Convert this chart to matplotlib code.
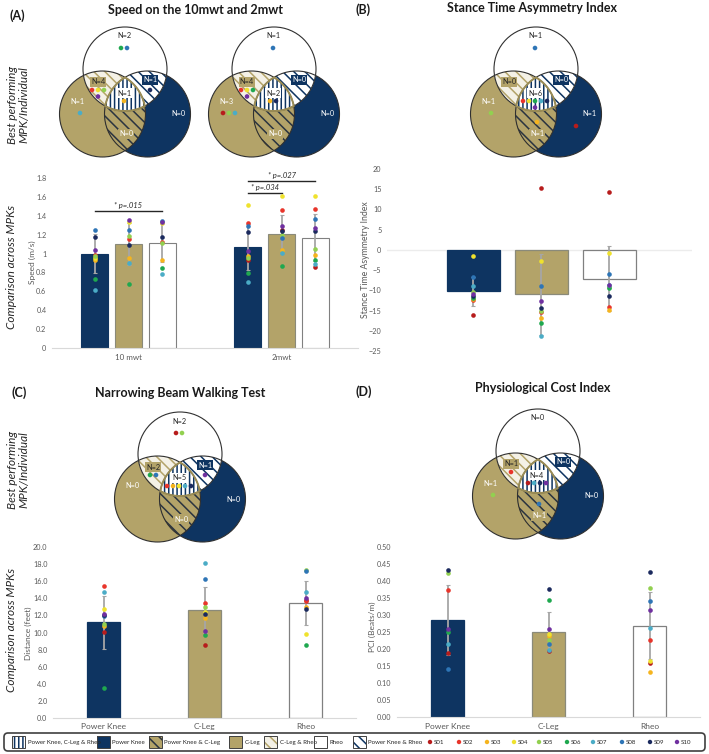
import numpy as np
import matplotlib
matplotlib.use('Agg')
import matplotlib.pyplot as plt
from matplotlib.patches import Circle, Polygon, FancyBboxPatch, Rectangle

plt.rcParams['font.family'] = ['Lato', 'DejaVu Sans']
plt.rcParams['hatch.linewidth'] = 1.1

# ---------------- data ----------------
SUBJECTS = ['S01', 'S02', 'S03', 'S04', 'S05', 'S06', 'S07', 'S08', 'S09', 'S10']
SUBJ_COLORS = ['#b71c1c', '#e8352b', '#f5b41e', '#efe22d', '#92d050',
               '#1fa84f', '#4bacc6', '#2e75b6', '#1b2a5e', '#7030a0']
MPKS = ['Power Knee', 'C-Leg', 'Rheo']
nan = np.nan

# (A) speed
A_TESTS = ['10 mwt', '2mwt']
A_MEAN = [[1.00, 1.10, 1.11], [1.07, 1.21, 1.17]]
A_SD = [[0.21, 0.22, 0.20], [0.24, 0.20, 0.25]]
A_10_PK = [nan, 0.98, 0.93, 0.95, 0.97, 0.73, 0.61, 1.25, 1.18, 1.04]
A_10_CL = [nan, 1.15, 0.95, 1.33, 1.19, 0.68, 0.90, 1.25, 1.09, 1.36]
A_10_RH = [nan, 1.12, 0.93, 1.32, 1.11, 0.85, 0.78, 1.35, 1.18, 1.33]
A_2_PK = [0.93, 1.32, 0.97, 1.51, 0.95, 0.79, 0.70, 1.29, 1.23, 1.03]
A_2_CL = [1.25, 1.46, 1.04, 1.61, 1.20, 0.87, 1.01, 1.16, 1.24, 1.29]
A_2_RH = [0.86, 1.47, 0.99, 1.61, 1.05, 0.93, 0.89, 1.37, 1.24, 1.27]
A_SIG = [('10 mwt', 0, 2, 1.45, '* p=.015'),
         ('2mwt', 0, 1, 1.64, '* p=.034'),
         ('2mwt', 0, 2, 1.77, '* p=.027')]

# (B) stance time asymmetry index
B_MEAN = [-10.2, -11.0, -7.1]
B_SD = [3.6, 10.0, 8.1]
B_PK = [-16.0, -12.3, -12.1, -1.6, -10.3, -11.9, -9.0, -6.6, -11.5, -10.8]
B_CL = [15.2, -15.3, -16.8, -2.8, -15.0, -18.2, -21.2, -9.0, -14.3, -12.7]
B_RH = [14.3, -14.2, -14.9, -0.7, -9.2, -9.3, -8.6, -5.9, -11.5, -8.8]

# (C) narrowing beam walking test
C_MEAN = [11.2, 12.6, 13.5]
C_SD = [3.1, 2.7, 2.6]
C_PK = [10.1, 15.5, 10.8, 12.8, 11.0, 3.5, 14.8, 11.9, 12.0, 12.2]
C_CL = [8.5, 13.5, 11.7, 12.4, 13.0, 9.7, 18.2, 16.3, 12.2, 10.2]
C_RH = [13.8, 13.7, 13.0, 9.8, 17.3, 8.5, 14.8, 17.2, 12.7, 14.0]

# (D) physiological cost index
D_MEAN = [0.285, 0.250, 0.268]
D_SD = [0.103, 0.058, 0.098]
D_PK = [0.188, 0.374, nan, nan, 0.423, 0.250, 0.213, 0.141, 0.432, 0.258]
D_CL = [0.193, nan, 0.238, 0.245, 0.226, 0.343, 0.197, 0.215, 0.376, 0.259]
D_RH = [0.160, 0.226, 0.133, 0.165, 0.380, nan, 0.261, 0.341, 0.427, 0.313]

# Venn diagrams: best performing MPK per individual
REGIONS = ['Rheo', 'C-Leg & Rheo', 'Power Knee & Rheo', 'Power Knee, C-Leg & Rheo',
           'C-Leg', 'Power Knee', 'Power Knee & C-Leg']
VENN_A1_N = [2, 4, 1, 1, 1, 0, 0]
VENN_A1_DOTS = [['S06', 'S08'], ['S02', 'S04', 'S05', 'S10'], ['S09'], ['S03'], ['S07'], [], []]
VENN_A2_N = [1, 4, 0, 2, 3, 0, 0]
VENN_A2_DOTS = [['S08'], ['S02', 'S04', 'S06', 'S10'], [], ['S03', 'S09'], ['S01', 'S05', 'S07'], [], []]
VENN_B_N = [1, 0, 0, 6, 1, 1, 1]
VENN_B_DOTS = [['S08'], [], [], ['S02', 'S04', 'S06', 'S07', 'S09', 'S10'], ['S05'], ['S01'], ['S03']]
VENN_C_N = [2, 2, 1, 5, 0, 0, 0]
VENN_C_DOTS = [['S01', 'S05'], ['S06', 'S08'], ['S10'], ['S02', 'S03', 'S04', 'S07', 'S09'], [], [], []]
VENN_D_N = [0, 1, 0, 4, 1, 0, 1]
VENN_D_DOTS = [[], ['S02'], [], ['S01', 'S07', 'S09', 'S10'], ['S05'], [], ['S08']]

# ---------------- style ----------------
NAVY = '#0e3461'
TAN = '#b3a369'
CREAM = '#f4f1e6'
GRID = '#d9d9d9'
TXT = '#595959'
DARK = '#262626'
BAR_FC = [NAVY, TAN, 'white']
BAR_EC = [NAVY, '#8a8a7a', '#808080']
COLOR_OF = dict(zip(SUBJECTS, SUBJ_COLORS))

W, H = 709, 754
fig = plt.figure(figsize=(W / 100, H / 100), dpi=100)
ov = fig.add_axes([0, 0, 1, 1])
ov.set_xlim(0, W)
ov.set_ylim(H, 0)
ov.axis('off')
ov.patch.set_visible(False)


def px_axes(x0, x1, ytop, ybot):
    ax = fig.add_axes([x0 / W, 1 - ybot / H, (x1 - x0) / W, (ybot - ytop) / H])
    ax.patch.set_visible(False)
    for s in ['top', 'right', 'left', 'bottom']:
        ax.spines[s].set_visible(False)
    ax.tick_params(axis='both', length=0, labelsize=5.2, labelcolor=TXT, pad=4)
    return ax


def inter_poly(circs, n=900):
    pts = []
    for i, (c, r) in enumerate(circs):
        t = np.linspace(0, 2 * np.pi, n, endpoint=False)
        p = np.c_[c[0] + r * np.cos(t), c[1] + r * np.sin(t)]
        ok = np.ones(n, bool)
        for j, (c2, r2) in enumerate(circs):
            if j == i:
                continue
            ok &= np.hypot(p[:, 0] - c2[0], p[:, 1] - c2[1]) <= r2
        pts.append(p[ok])
    pts = np.vstack(pts)
    m = pts.mean(0)
    ang = np.arctan2(pts[:, 1] - m[1], pts[:, 0] - m[0])
    return pts[np.argsort(ang)]


LBL_OFF = [(-1, -33), (-27, 13), (25, 11), (-1, 24), (-48, 32), (53, 45), (1, 65)]
DOT_OFF = [(-1, -21), (-27, 21), (25, 21), (-1, 32), (-45, 44), (40, 57), (1, 53)]
DOT_ROW = [3, 3, 3, 5, 3, 3, 3]
LBL_STYLE = [(DARK, None), (DARK, TAN), ('white', NAVY), (DARK, 'white'),
             ('white', None), ('white', None), ('white', TAN)]


def venn(cx, cy, counts, dots):
    top = ((cx, cy), 42)
    tan = ((cx - 22.5, cy + 45), 43)
    nav = ((cx + 22.5, cy + 45), 43)
    ov.add_patch(Circle(*tan, fc=TAN, ec='none', zorder=1))
    ov.add_patch(Circle(*nav, fc=NAVY, ec='none', zorder=1))
    ov.add_patch(Polygon(inter_poly([tan, nav]), closed=True, fc=TAN, ec='#2a3440',
                         hatch='\\\\\\', lw=0, zorder=2))
    ov.add_patch(Circle(*top, fc='white', ec='none', zorder=3))
    ov.add_patch(Polygon(inter_poly([top, tan]), closed=True, fc=CREAM, ec=TAN,
                         hatch='\\\\\\', lw=0, zorder=4))
    ov.add_patch(Polygon(inter_poly([top, nav]), closed=True, fc='white', ec=NAVY,
                         hatch='\\\\\\', lw=0, zorder=4))
    tri = inter_poly([top, tan, nav])
    ov.add_patch(Polygon(tri, closed=True, fc='white', ec=NAVY, hatch='||||', lw=0, zorder=5))
    for c in (top, tan, nav):
        ov.add_patch(Circle(*c, fill=False, ec='#303030', lw=0.8, zorder=6))
    ov.add_patch(Polygon(tri, closed=True, fill=False, ec='#9a8c55', lw=1.4, zorder=6.5))
    for k in range(len(REGIONS)):
        tc, bc = LBL_STYLE[k]
        lx, ly = cx + LBL_OFF[k][0], cy + LBL_OFF[k][1]
        bbox = None if bc is None else dict(boxstyle='square,pad=0.18', fc=bc, ec='none')
        ov.text(lx, ly, 'N=%d' % counts[k], ha='center', va='center', fontsize=5.3,
                color=tc, bbox=bbox, zorder=7)
        subs = dots[k]
        nrow = DOT_ROW[k]
        for i, s in enumerate(subs):
            row, col = divmod(i, nrow)
            nin = min(nrow, len(subs) - row * nrow)
            dx = (col - (nin - 1) / 2) * 6.0
            ov.add_patch(Circle((cx + DOT_OFF[k][0] + dx, cy + DOT_OFF[k][1] + row * 6.5), 2.3,
                                fc=COLOR_OF[s], ec='none', zorder=8))


def scatter_pts(ax, x, vals):
    for s, v in zip(SUBJECTS, vals):
        if not np.isnan(v):
            ax.scatter([x], [v], s=11, color=COLOR_OF[s], zorder=5, linewidths=0, clip_on=False)


# ---------------- panel titles & row labels ----------------
ov.text(10, 16, '(A)', fontsize=9, fontweight='bold', ha='left', va='center', color='#1a1a1a')
ov.text(195, 10, 'Speed on the 10mwt and 2mwt', fontsize=9, fontweight='bold', ha='center', va='center', color='#1a1a1a')
ov.text(356, 10, '(B)', fontsize=9, fontweight='bold', ha='left', va='center', color='#1a1a1a')
ov.text(532, 8, 'Stance Time Asymmetry Index', fontsize=9, fontweight='bold', ha='center', va='center', color='#1a1a1a')
ov.text(12, 393, '(C)', fontsize=9, fontweight='bold', ha='left', va='center', color='#1a1a1a')
ov.text(180, 393, 'Narrowing Beam Walking Test', fontsize=9, fontweight='bold', ha='center', va='center', color='#1a1a1a')
ov.text(356, 392, '(D)', fontsize=9, fontweight='bold', ha='left', va='center', color='#1a1a1a')
ov.text(543, 388, 'Physiological Cost Index', fontsize=9, fontweight='bold', ha='center', va='center', color='#1a1a1a')

for yc in (105, 470):
    ov.text(18, yc, 'Best performing\nMPK/Individual', rotation=90, style='italic', fontsize=8.5,
            ha='center', va='center', color=DARK, linespacing=1.1)
for yc in (267, 630):
    ov.text(12, yc, 'Comparison across MPKs', rotation=90, style='italic', fontsize=8.5,
            ha='center', va='center', color=DARK)

# ---------------- Venns ----------------
venn(125, 69, VENN_A1_N, VENN_A1_DOTS)
venn(274, 69, VENN_A2_N, VENN_A2_DOTS)
venn(536, 69, VENN_B_N, VENN_B_DOTS)
venn(180, 454, VENN_C_N, VENN_C_DOTS)
venn(538, 451, VENN_D_N, VENN_D_DOTS)

# ---------------- (A) bars ----------------
axA = px_axes(52, 358, 178, 348)
axA.set_xlim(-0.5, 1.5)
axA.set_ylim(0, 1.8)
axA.set_yticks(np.arange(0, 1.81, 0.2))
axA.set_yticklabels(['%g' % round(v, 1) for v in np.arange(0, 1.81, 0.2)])
axA.set_xticks(range(len(A_TESTS)))
axA.set_xticklabels(A_TESTS, fontsize=5.8)
axA.spines['bottom'].set_visible(True)
axA.spines['bottom'].set_color(GRID)
offs = [-0.222, 0.0, 0.222]
A_PTS = [[A_10_PK, A_10_CL, A_10_RH], [A_2_PK, A_2_CL, A_2_RH]]
for g in range(len(A_TESTS)):
    for m in range(3):
        x = g + offs[m]
        axA.bar(x, A_MEAN[g][m], width=0.18, color=BAR_FC[m], edgecolor=BAR_EC[m], lw=0.8, zorder=2)
        axA.errorbar(x, A_MEAN[g][m], yerr=A_SD[g][m], fmt='none', ecolor='#a6a6a6',
                     elinewidth=1.3, capsize=1.5, capthick=0.8, zorder=3)
        scatter_pts(axA, x, A_PTS[g][m])
for test, i, j, yv, lab in A_SIG:
    g = A_TESTS.index(test)
    x0, x1 = g + offs[i], g + offs[j]
    axA.plot([x0, x1], [yv, yv], color=DARK, lw=1.0, zorder=4, clip_on=False)
    axA.text((x0 + x1) / 2, yv + 0.02, lab, ha='center', va='bottom', fontsize=5.5,
             style='italic', color=DARK, clip_on=False)
ov.text(32, 262, 'Speed (m/s)', rotation=90, fontsize=6, color=TXT, ha='center', va='center')

# ---------------- (B) bars ----------------
axB = px_axes(387, 692, 169, 351)
axB.set_xlim(-1.265, 3.22)
axB.set_ylim(-25, 20)
axB.set_yticks(np.arange(-25, 21, 5))
axB.set_xticks([])
axB.axhline(0, color='#ececec', lw=1, zorder=1)
B_PTS = [B_PK, B_CL, B_RH]
for m in range(3):
    axB.bar(m, B_MEAN[m], width=0.78, color=BAR_FC[m], edgecolor=BAR_EC[m], lw=0.9, zorder=2)
    axB.errorbar(m, B_MEAN[m], yerr=B_SD[m], fmt='none', ecolor='#a6a6a6',
                 elinewidth=1.3, capsize=1.5, capthick=0.8, zorder=3)
    scatter_pts(axB, m, B_PTS[m])
ov.text(365, 260, 'Stance Time Asymmetry Index', rotation=90, fontsize=6.3, color=TXT,
        ha='center', va='center')

# ---------------- (C) bars ----------------
axC = px_axes(53, 356, 547.3, 717.7)
axC.set_xlim(-0.5, 2.5)
axC.set_ylim(0, 20)
axC.set_yticks(np.arange(0, 20.1, 2))
axC.set_yticklabels(['%.1f' % v for v in np.arange(0, 20.1, 2)])
axC.set_xticks(range(3))
axC.set_xticklabels(MPKS, fontsize=6)
axC.spines['bottom'].set_visible(True)
axC.spines['bottom'].set_color(GRID)
C_PTS = [C_PK, C_CL, C_RH]
for m in range(3):
    axC.bar(m, C_MEAN[m], width=0.32, color=BAR_FC[m], edgecolor=BAR_EC[m], lw=0.9, zorder=2)
    axC.errorbar(m, C_MEAN[m], yerr=C_SD[m], fmt='none', ecolor='#a6a6a6',
                 elinewidth=1.3, capsize=1.5, capthick=0.8, zorder=3)
    scatter_pts(axC, m, C_PTS[m])
ov.text(28, 633, 'Distance (feet)', rotation=90, fontsize=6, color=TXT, ha='center', va='center')

# ---------------- (D) bars ----------------
axD = px_axes(397, 700, 546.7, 717)
axD.set_xlim(-0.5, 2.5)
axD.set_ylim(0, 0.5)
axD.set_yticks(np.arange(0, 0.501, 0.05))
axD.set_yticklabels(['%.2f' % v for v in np.arange(0, 0.501, 0.05)])
axD.set_xticks(range(3))
axD.set_xticklabels(MPKS, fontsize=6)
axD.spines['bottom'].set_visible(True)
axD.spines['bottom'].set_color(GRID)
D_PTS = [D_PK, D_CL, D_RH]
for m in range(3):
    axD.bar(m, D_MEAN[m], width=0.32, color=BAR_FC[m], edgecolor=BAR_EC[m], lw=0.9, zorder=2)
    axD.errorbar(m, D_MEAN[m], yerr=D_SD[m], fmt='none', ecolor='#a6a6a6',
                 elinewidth=1.3, capsize=1.5, capthick=0.8, zorder=3)
    scatter_pts(axD, m, D_PTS[m])
ov.text(372, 627, 'PCI (Beats/m)', rotation=90, fontsize=6, color=TXT, ha='center', va='center')

# ---------------- legend ----------------
ov.add_patch(FancyBboxPatch((4, 733), 701, 18, boxstyle='round,pad=0,rounding_size=4',
                            fc='white', ec='#404040', lw=1.2, zorder=1))
LEG_ITEMS = [
    ('Power Knee, C-Leg & Rheo', 12, 'white', NAVY, '||||'),
    ('Power Knee', 97, NAVY, NAVY, None),
    ('Power Knee & C-Leg', 149, TAN, '#2a3440', '\\\\\\'),
    ('C-Leg', 229, TAN, TAN, None),
    ('C-Leg & Rheo', 264, CREAM, TAN, '\\\\\\'),
    ('Rheo', 314, 'white', 'white', None),
    ('Power Knee & Rheo', 353, 'white', NAVY, '\\\\\\'),
]
for lab, x0, fc, hc, hatch in LEG_ITEMS:
    ov.add_patch(Rectangle((x0, 736), 13, 12, fc=fc, ec=hc, hatch=hatch, lw=0, zorder=2))
    ov.add_patch(Rectangle((x0, 736), 13, 12, fill=False, ec='#404040', lw=0.7, zorder=3))
    ov.text(x0 + 15.5, 742.5, lab, fontsize=4.4, color=DARK, ha='left', va='center', zorder=3)
LEG_DOT_X = [430, 459, 487, 514, 539, 567, 593, 622, 650, 677]
for s, c, x in zip(SUBJECTS, SUBJ_COLORS, LEG_DOT_X):
    ov.add_patch(Circle((x, 742), 2.2, fc=c, ec='none', zorder=3))
    ov.text(x + 4, 742.5, s, fontsize=4.4, color=DARK, ha='left', va='center', zorder=3)

fig.savefig('out.png', dpi=100)
